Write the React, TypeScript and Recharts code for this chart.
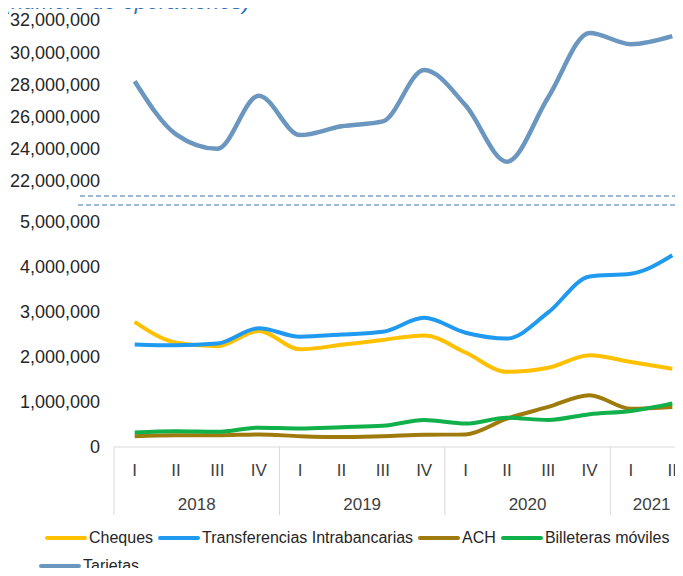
import { LineChart, Line, XAxis, YAxis } from "recharts";

const quarters = ["I", "II", "III", "IV", "I", "II", "III", "IV", "I", "II", "III", "IV", "I", "II"];
const years = ["2018", "2018", "2018", "2018", "2019", "2019", "2019", "2019", "2020", "2020", "2020", "2020", "2021", "2021"];

const cheques = [2780000, 2320000, 2240000, 2580000, 2170000, 2270000, 2380000, 2480000, 2100000, 1670000, 1760000, 2040000, 1890000, 1740000];
const transferencias = [2280000, 2260000, 2300000, 2640000, 2450000, 2500000, 2560000, 2870000, 2540000, 2410000, 2990000, 3790000, 3850000, 4260000];
const ach = [240000, 260000, 260000, 280000, 240000, 220000, 240000, 270000, 280000, 630000, 890000, 1150000, 850000, 890000];
const billeteras = [320000, 350000, 340000, 430000, 410000, 440000, 470000, 600000, 520000, 650000, 600000, 730000, 800000, 970000];
const tarjetas = [28200000, 24900000, 24000000, 27300000, 24850000, 25400000, 25700000, 28900000, 26700000, 23200000, 27200000, 31200000, 30500000, 31000000];

const topTicks = [22000000, 24000000, 26000000, 28000000, 30000000, 32000000];
const bottomTicks = [0, 1000000, 2000000, 3000000, 4000000, 5000000];

const series = [
  { key: "cheques", name: "Cheques", color: "#ffc000" },
  { key: "transferencias", name: "Transferencias Intrabancarias", color: "#1f9af0" },
  { key: "ach", name: "ACH", color: "#9e7b0c" },
  { key: "billeteras", name: "Billeteras móviles", color: "#10b04a" },
  { key: "tarjetas", name: "Tarjetas", color: "#6a96bf" },
];

const data = quarters.map((q, i) => ({
  label: `${years[i]}-${q}`,
  quarter: q,
  year: years[i],
  cheques: cheques[i],
  transferencias: transferencias[i],
  ach: ach[i],
  billeteras: billeteras[i],
  tarjetas: tarjetas[i],
}));

const W = 700;
const LEFT = 114;
const RIGHT = 7;
const BAND = (W - LEFT - RIGHT) / data.length;
const FONT = "'Liberation Sans', Arial, sans-serif";

const fmt = (v: number) => v.toLocaleString("en-US");

function QuarterTick(props: any) {
  const { x, y, index } = props;
  const d = data[index];
  if (!d) return null;
  const first = index === 0 || data[index - 1].year !== d.year;
  let count = 0;
  if (first) count = data.filter((r) => r.year === d.year).length;
  return (
    <g>
      <text x={x} y={y + 23} textAnchor="middle" dominantBaseline="central" fontSize={17} fill="#404040" fontFamily={FONT}>
        {d.quarter}
      </text>
      {first && (
        <>
          <line x1={x - BAND / 2} x2={x - BAND / 2} y1={y} y2={y + 68} stroke="#d9d9d9" strokeWidth={1} />
          <text
            x={x - BAND / 2 + (count * BAND) / 2}
            y={y + 57}
            textAnchor="middle"
            dominantBaseline="central"
            fontSize={17}
            fill="#404040"
            fontFamily={FONT}
          >
            {d.year}
          </text>
        </>
      )}
    </g>
  );
}

export default function App() {
  const lower = series.filter((s) => s.key !== "tarjetas");
  const top = series.find((s) => s.key === "tarjetas")!;
  return (
    <div style={{ position: "relative", margin: -8, width: 683, height: 576, overflow: "hidden", background: "#fff" }}>
      <div style={{ position: "absolute", left: 0, top: 0 }}>
        <LineChart width={W} height={200} data={data} margin={{ top: 20, right: RIGHT, bottom: 19, left: 0 }}>
          <XAxis dataKey="label" hide padding={{ left: BAND / 2, right: BAND / 2 }} />
          <YAxis
            width={LEFT}
            domain={[22000000, 32000000]}
            ticks={topTicks}
            tickFormatter={fmt}
            axisLine={false}
            tickLine={false}
            tickMargin={8}
            tick={{ fill: "#262626", fontSize: 18, fontFamily: FONT }}
          />
          <Line type="monotone" dataKey="tarjetas" stroke={top.color} strokeWidth={4.5} dot={false} isAnimationActive={false} />
        </LineChart>
      </div>
      <div style={{ position: "absolute", left: 0, top: 0 }}>
        <LineChart width={W} height={576} data={data} margin={{ top: 222, right: RIGHT, bottom: 0, left: 0 }}>
          <XAxis
            dataKey="label"
            padding={{ left: BAND / 2, right: BAND / 2 }}
            axisLine={{ stroke: "#d9d9d9" }}
            tickLine={false}
            tickSize={0}
            tickMargin={0}
            height={129}
            interval={0}
            tick={<QuarterTick />}
          />
          <YAxis
            width={LEFT}
            domain={[0, 5000000]}
            ticks={bottomTicks}
            tickFormatter={fmt}
            axisLine={false}
            tickLine={false}
            tickMargin={8}
            tick={{ fill: "#262626", fontSize: 18, fontFamily: FONT }}
          />
          {lower.map((s) => (
            <Line key={s.key} type="monotone" dataKey={s.key} stroke={s.color} strokeWidth={4} dot={false} isAnimationActive={false} />
          ))}
        </LineChart>
      </div>
      <svg width={683} height={576} style={{ position: "absolute", left: 0, top: 0, pointerEvents: "none" }}>
        <text x={4} y={9} fontSize={22} fontStyle="italic" fill="#2e72b4" fontFamily={FONT}>
          (número de operaciones)
        </text>
        <line x1={80} x2={680} y1={196} y2={196} stroke="#7fa3c9" strokeWidth={1.3} strokeDasharray="5 3" />
        <line x1={78} x2={683} y1={205} y2={205} stroke="#7fa3c9" strokeWidth={1.3} strokeDasharray="5 3" />
      </svg>
      <div style={{ position: "absolute", left: 0, top: 524, width: 683, fontFamily: FONT, fontSize: 16, color: "#262626" }}>
        {[lower, [top]].map((row, r) => (
          <div key={r} style={{ display: "flex", alignItems: "center", height: 28, marginLeft: r === 0 ? 45 : 39, whiteSpace: "nowrap" }}>
            {row.map((s) => (
              <div key={s.key} style={{ display: "flex", alignItems: "center", marginRight: 5 }}>
                <span style={{ display: "inline-block", width: 42, height: 4, borderRadius: 2, background: s.color, marginRight: 2 }} />
                <span>{s.name}</span>
              </div>
            ))}
          </div>
        ))}
      </div>
    </div>
  );
}
